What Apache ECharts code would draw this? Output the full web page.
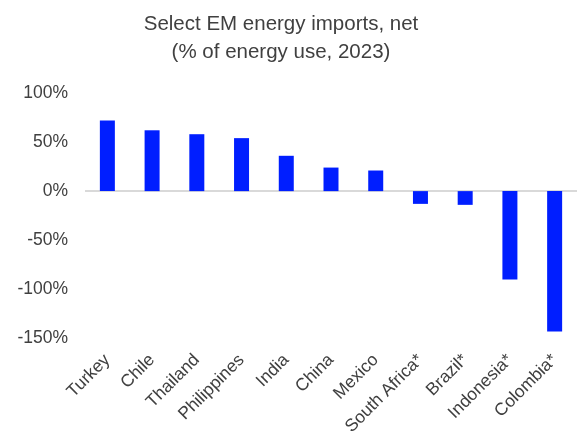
<!DOCTYPE html>
<html>
<head>
<meta charset="utf-8">
<script src="https://cdn.jsdelivr.net/npm/echarts@6/dist/echarts.min.js"></script>
<style>
  html, body { margin: 0; padding: 0; background: #fff; }
  #main { width: 577px; height: 438px; }
</style>
</head>
<body>
<div id="main"></div>
<script>
// data
var countries = ['Turkey', 'Chile', 'Thailand', 'Philippines', 'India', 'China', 'Mexico',
                 'South Africa*', 'Brazil*', 'Indonesia*', 'Colombia*'];
var netImports = [72, 62, 58, 54, 36, 24, 21, -13, -14, -90, -143];
var yTicks = [-150, -100, -50, 0, 50, 100];

var myChart = echarts.init(document.getElementById('main'));

var option = {
    animation: false,
    title: {
        text: 'Select EM energy imports, net\n(% of energy use, 2023)',
        left: 276,
        top: 5,
        textAlign: 'center',
        textStyle: {
            color: '#404040',
            fontFamily: 'Liberation Sans, Arial, sans-serif',
            fontSize: 20.5,
            fontWeight: 'normal',
            lineHeight: 28
        }
    },
    grid: {
        left: 85,
        right: -6,
        top: 93,
        bottom: 98,
        containLabel: false
    },
    xAxis: {
        type: 'category',
        data: countries,
        axisLine: { show: false },
        axisTick: { show: false },
        axisLabel: {
            interval: 0,
            rotate: 45,
            margin: 19,
            color: '#404040',
            fontFamily: 'Liberation Sans, Arial, sans-serif',
            fontSize: 17.5
        }
    },
    yAxis: {
        type: 'value',
        min: yTicks[0],
        max: yTicks[yTicks.length - 1],
        interval: 50,
        axisLine: { show: false },
        axisTick: { show: false },
        splitLine: { show: false },
        axisLabel: {
            margin: 17,
            color: '#404040',
            fontFamily: 'Liberation Sans, Arial, sans-serif',
            fontSize: 17.5,
            formatter: function (v) { return v + '%'; }
        }
    },
    series: [
        {
            type: 'bar',
            data: netImports,
            barWidth: 15,
            itemStyle: { color: '#001eff' },
            markLine: {
                silent: true,
                symbol: 'none',
                label: { show: false },
                lineStyle: { color: '#d9d9d9', width: 2, type: 'solid' },
                data: [{ yAxis: 0 }],
                z: 1
            }
        }
    ]
};

myChart.setOption(option);
</script>
</body>
</html>
